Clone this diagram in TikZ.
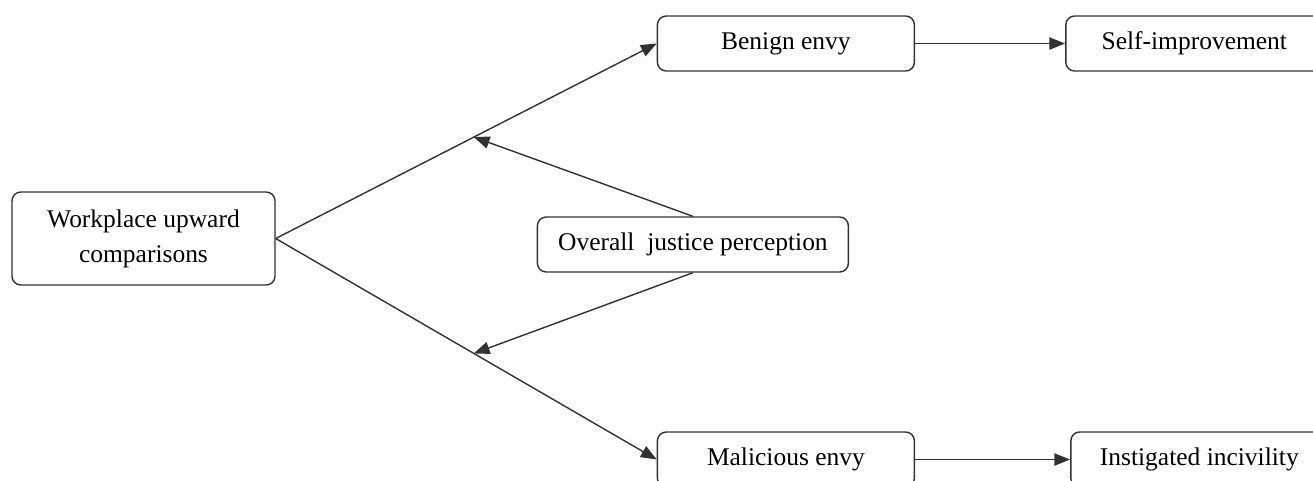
\documentclass[tikz,border=0pt]{standalone}
\usepackage{fontspec}
\setmainfont{Liberation Serif}
\usetikzlibrary{positioning,calc,arrows.meta}
\definecolor{boxline}{RGB}{50,50,50}
\tikzset{
    % Define standard node styles
    conceptbox/.style={
        rectangle, draw=boxline, line width=0.8pt, fill=white,
        rounded corners=5pt, minimum width=5.14cm, minimum height=1.1cm,
        font=\fontsize{14.5}{20}\selectfont, align=center, inner sep=2pt
    },
    sourcebox/.style={
        conceptbox, minimum width=5.26cm, minimum height=1.86cm
    },
    moderatorbox/.style={
        conceptbox, minimum width=6.22cm
    },
    arrow/.style={
        -{Triangle[length=9pt,width=7pt]}, line width=0.8pt, color=boxline
    }
}

\begin{document}
\begin{tikzpicture}
\useasboundingbox (0,0) rectangle (26.26,-9.6);

% Main model
\node[sourcebox] (wuc) at (2.87,-4.77) {Workplace upward\\comparisons};
\node[conceptbox, right=7.62cm of wuc, yshift=3.9cm] (benign) {Benign envy};
\node[conceptbox, right=3cm of benign] (selfimp) {Self-improvement};
\node[moderatorbox, right=5.22cm of wuc, yshift=-0.12cm] (justice) {Overall~ justice perception};
\node[conceptbox, right=7.62cm of wuc, yshift=-4.42cm] (malicious) {Malicious envy};
\node[conceptbox, right=3.1cm of malicious] (incivility) {Instigated incivility};

% Moderation points
\coordinate (upper_mod) at ($(wuc.east)!0.52!(benign.west)$);
\coordinate (lower_mod) at ($(wuc.east)!0.52!(malicious.west)$);

% Arrows
\draw[arrow] (wuc.east) -- (benign.west);
\draw[arrow] (wuc.east) -- (malicious.west);
\draw[arrow] (benign) -- (selfimp);
\draw[arrow] (malicious) -- (incivility);
\draw[arrow] (justice.north) -- (upper_mod);
\draw[arrow] (justice.south) -- (lower_mod);

\end{tikzpicture}
\end{document}
